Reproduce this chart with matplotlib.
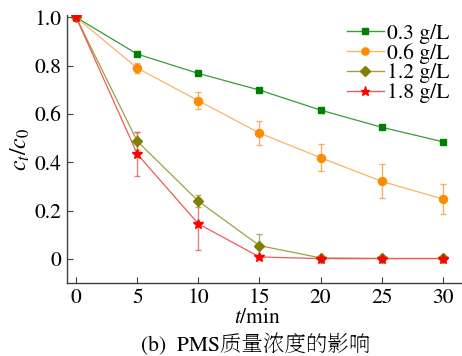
import matplotlib
matplotlib.use("Agg")
import matplotlib.pyplot as plt

time_min = [0, 5, 10, 15, 20, 25, 30]
labels = ["0.3 g/L", "0.6 g/L", "1.2 g/L", "1.8 g/L"]
ratio_03 = [1.0, 0.848, 0.768, 0.699, 0.616, 0.545, 0.485]
ratio_06 = [1.0, 0.790, 0.655, 0.521, 0.419, 0.321, 0.248]
ratio_12 = [1.0, 0.487, 0.239, 0.055, 0.004, 0.002, 0.002]
ratio_18 = [1.0, 0.434, 0.145, 0.008, 0.001, 0.001, 0.001]
err_03 = [0, 0, 0, 0, 0, 0, 0]
err_06 = [0, 0.020, 0.035, 0.048, 0.056, 0.070, 0.062]
err_12 = [0, 0.037, 0.024, 0.050, 0.004, 0.002, 0.002]
err_18 = [0, 0.090, 0.107, 0.006, 0.001, 0.001, 0.001]

plt.rcParams["font.family"] = ["STIXGeneral", "Noto Serif SC"]
plt.rcParams["mathtext.fontset"] = "stix"

fig = plt.figure(figsize=(4.62, 3.56), dpi=100)
ax = fig.add_axes([0.145, 0.205, 0.853, 0.753])

series = [
    (ratio_03, err_03, "s", 4.8, "#008000", "#3a9a3a", "#008000"),
    (ratio_06, err_06, "o", 5.8, "#ff8c00", "#f7b567", "#f0a040"),
    (ratio_12, err_12, "D", 5.2, "#808000", "#a0a040", "#a0a040"),
    (ratio_18, err_18, "*", 7.5, "#ff0000", "#ee5a5a", "#e06060"),
]

handles = []
for (vals, errs, mk, ms, mcol, lcol, ecol), lab in zip(series, labels):
    ax.errorbar(time_min, vals, yerr=errs, fmt="none", ecolor=ecol,
                elinewidth=1.0, capsize=2.5, capthick=1.0, alpha=0.8, zorder=2)
    ax.plot(time_min, vals, "-", color=lcol, lw=0.9, zorder=3)
    ax.plot(time_min, vals, mk, color=mcol, ms=ms, mec=mcol, zorder=4)
    h, = ax.plot([], [], "-", marker=mk, color=lcol, mfc=mcol, mec=mcol,
                 ms=ms * 0.9, lw=1.0, label=lab)
    handles.append(h)

ax.set_xlim(-0.75, 31.5)
ax.set_ylim(-0.1, 1.01)
ax.set_xticks(time_min)
ax.set_xticklabels([str(t) for t in time_min])
ax.set_yticks([0, 0.2, 0.4, 0.6, 0.8, 1.0])
ax.set_yticklabels(["0", "0.2", "0.4", "0.6", "0.8", "1.0"])
ax.tick_params(direction="in", length=4, width=0.8, labelsize=15.5, pad=4,
               colors="#404040", labelcolor="black")
for s in ["top", "right"]:
    ax.spines[s].set_visible(False)
for s in ["left", "bottom"]:
    ax.spines[s].set_color("#404040")
    ax.spines[s].set_linewidth(1.0)

ax.set_ylabel("$c_t/c_0$", fontsize=17, labelpad=2)
fig.text(0.558, 0.107, "$t$/min", ha="center", va="center", fontsize=15.5)
fig.text(0.554, 0.031, "(b)  PMS质量浓度的影响", ha="center", va="center",
         fontsize=15.5)

ax.legend(handles=handles, loc="upper right", bbox_to_anchor=(0.998, 1.008),
          frameon=False, fontsize=15.5, handlelength=1.7, handletextpad=0.15,
          labelspacing=-0.02, borderaxespad=0.1)

fig.savefig("out.png", dpi=100)
